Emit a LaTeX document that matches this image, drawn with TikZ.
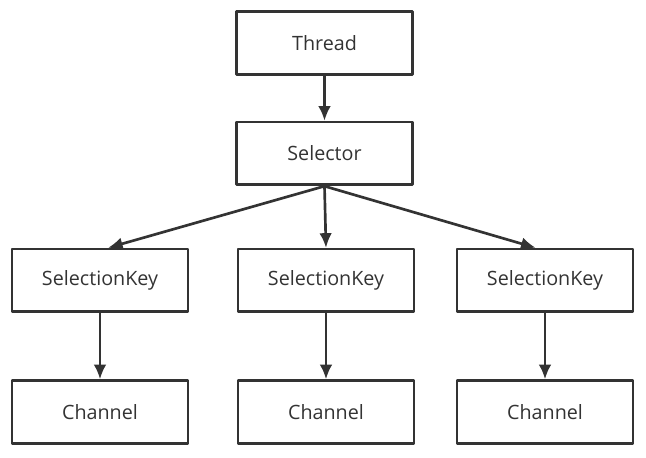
\documentclass[tikz,border=0pt]{standalone}
\usepackage{fontspec}
\setmainfont{Open Sans}
\usepackage{tikz}
\usetikzlibrary{arrows.meta}
\usetikzlibrary{positioning}
\definecolor{darkgray}{rgb}{0.2,0.2,0.2}

\tikzset{
  box/.style={draw=darkgray, line width=2pt, minimum width=132pt, minimum height=47pt,
    text=darkgray, font=\fontsize{14.8pt}{17pt}\selectfont},
  link/.style={darkgray, line width=2pt, -{Latex[length=11pt, width=9.5pt]}}
}

\begin{document}
\begin{tikzpicture}[line cap=round,line join=round,x=0.75pt,y=0.75pt]
\useasboundingbox (0,0) rectangle (646,457);
\node[box] (thread) at (324.5,414) {Thread};
\node[box] (selector) at (324.5,303.5) {Selector};
\node[box] (keyA) at (100,176.5) {SelectionKey};
\node[box] (keyB) at (326,176.5) {SelectionKey};
\node[box] (keyC) at (545,176.5) {SelectionKey};
\node[box] (chanA) at (100,45) {Channel};
\node[box] (chanB) at (326,45) {Channel};
\node[box] (chanC) at (545,45) {Channel};
\draw [link] (thread) -- (selector);
\draw [link] (selector.south) -- ([xshift=6pt]keyA.north);
\draw [link] (selector.south) -- (keyB.north);
\draw [link] (selector.south) -- ([xshift=-7pt]keyC.north);
\draw [link] (keyA) -- (chanA);
\draw [link] (keyB) -- (chanB);
\draw [link] (keyC) -- (chanC);
\end{tikzpicture}
\end{document}
